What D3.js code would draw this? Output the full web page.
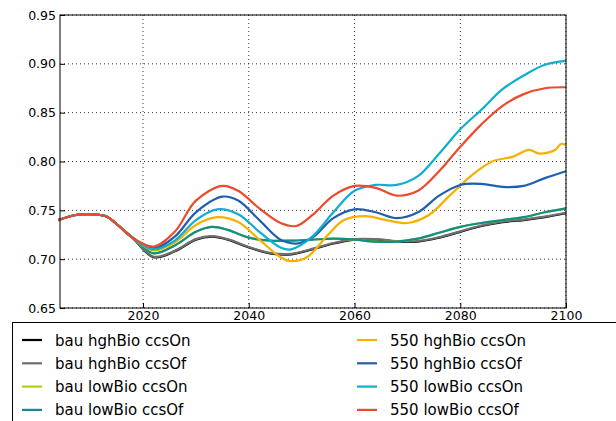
<!DOCTYPE html><html><head><script src="https://cdn.jsdelivr.net/npm/d3@7"></script>
<style>body{margin:0;background:#fff}text{font-family:"DejaVu Sans";}</style></head><body><svg width="616" height="421"></svg><script>
const names=["bau hghBio ccsOn","bau hghBio ccsOf","bau lowBio ccsOn","bau lowBio ccsOf","550 hghBio ccsOn","550 hghBio ccsOf","550 lowBio ccsOn","550 lowBio ccsOf"];
const colors=["#000000","#6e6e6e","#b5cf0b","#0e8f8a","#f5b000","#1f5fad","#0eaed0","#ec4a2c"];
const startYears=[2004,2007,2010,2013,2015,2018];
const startVals=[0.740,0.745,0.746,0.744,0.736,0.722];
const yrsBau=[2022,2026,2030,2033,2036,2040,2044,2048,2052,2056,2060,2064,2068,2072,2076,2080,2084,2088,2092,2096,2100];
const bauHgh=[0.702,0.708,0.720,0.723,0.720,0.712,0.706,0.705,0.710,0.716,0.720,0.720,0.718,0.718,0.722,0.728,0.734,0.738,0.740,0.743,0.747];
const bauLow=[0.706,0.714,0.728,0.733,0.730,0.722,0.719,0.719,0.720,0.721,0.720,0.718,0.718,0.721,0.727,0.733,0.737,0.740,0.743,0.748,0.752];
const yrs550a=[2022,2026,2030,2034,2038,2042,2046,2048,2051,2055,2058,2062,2066,2070,2074,2078,2082,2086,2090,2093,2095,2098,2099,2100];
const hghOn=[0.709,0.717,0.735,0.743,0.738,0.720,0.702,0.698,0.702,0.725,0.740,0.744,0.740,0.737,0.745,0.765,0.785,0.800,0.805,0.812,0.808,0.812,0.818,0.817];
const yrs550b=[2022,2026,2030,2035,2038,2042,2046,2049,2052,2056,2060,2064,2068,2072,2076,2080,2084,2088,2092,2096,2100];
const hghOf=[0.711,0.723,0.748,0.764,0.760,0.740,0.720,0.716,0.722,0.742,0.751,0.748,0.742,0.748,0.765,0.776,0.777,0.774,0.775,0.783,0.790];
const lowOf=[0.713,0.728,0.760,0.775,0.770,0.752,0.737,0.734,0.745,0.765,0.775,0.773,0.765,0.770,0.790,0.815,0.838,0.857,0.869,0.875,0.876];
const yrs550c=[2022,2026,2030,2034,2038,2042,2046,2048,2052,2056,2060,2064,2068,2072,2076,2080,2084,2088,2092,2096,2100];
const lowOn=[0.710,0.719,0.740,0.751,0.746,0.728,0.712,0.710,0.723,0.748,0.770,0.776,0.776,0.785,0.808,0.833,0.853,0.874,0.888,0.899,0.903];
const seriesYears=[yrsBau,yrsBau,yrsBau,yrsBau,yrs550a,yrs550b,yrs550c,yrs550b];
const seriesVals=[bauHgh,bauHgh.map(v=>v+0.0005),bauLow,bauLow,hghOn,hghOf,lowOn,lowOf];
const xTicks=[2020,2040,2060,2080,2100];
const yTicks=[0.65,0.70,0.75,0.80,0.85,0.90,0.95];

const svg=d3.select("svg");
const L=60,R=566,T=15,B=308;
const x=d3.scaleLinear().domain([2004.3,2100]).range([L,R]);
const y=d3.scaleLinear().domain([0.65,0.95]).range([B,T]);
const g=svg.append("g");
xTicks.forEach(t=>g.append("line").attr("x1",x(t)).attr("x2",x(t)).attr("y1",T).attr("y2",B).attr("stroke","#000").attr("stroke-dasharray","1,3").attr("stroke-width",0.8));
yTicks.forEach(t=>g.append("line").attr("x1",L).attr("x2",R).attr("y1",y(t)).attr("y2",y(t)).attr("stroke","#000").attr("stroke-dasharray","1,3").attr("stroke-width",0.8));
const line=d3.line().x(d=>x(d[0])).y(d=>y(d[1])).curve(d3.curveCatmullRom.alpha(0.5));
[0,1,2,3,4,5,6,7].forEach(i=>{
  const pts=startYears.map((yr,j)=>[yr,startVals[j]]).concat(seriesYears[i].map((yr,j)=>[yr,seriesVals[i][j]]));
  g.append("path").attr("d",line(pts)).attr("fill","none").attr("stroke",colors[i]).attr("stroke-width",2.2);
});
svg.append("rect").attr("x",12.5).attr("y",322.5).attr("width",620).attr("height",120).attr("fill","#fff").attr("stroke","#000").attr("stroke-width",1);
const xa=svg.append("g").attr("transform",`translate(0,${B})`).call(d3.axisBottom(x).tickValues(xTicks).tickFormat(d3.format("d")).tickSizeInner(-5).tickSizeOuter(0).tickPadding(3));
const ya=svg.append("g").attr("transform",`translate(${L},0)`).call(d3.axisLeft(y).tickValues(yTicks).tickFormat(d3.format(".2f")).tickSizeInner(-5).tickSizeOuter(0).tickPadding(4));
[xa,ya].forEach(a=>{a.selectAll("text").attr("font-size",12.5).attr("fill","#000");a.select(".domain").remove();});
svg.append("rect").attr("x",L).attr("y",T).attr("width",R-L).attr("height",B-T).attr("fill","none").attr("stroke","#000").attr("stroke-width",1);
names.forEach((n,i)=>{
  const col=Math.floor(i/4),row=i%4;
  const lx=col?357:22, ty=340+row*23.3;
  svg.append("line").attr("x1",lx).attr("x2",lx+20).attr("y1",ty).attr("y2",ty).attr("stroke",colors[i]).attr("stroke-width",2.2);
  svg.append("text").attr("x",lx+33).attr("y",ty+5.5).attr("font-size",15).text(n);
});
</script></body></html>
